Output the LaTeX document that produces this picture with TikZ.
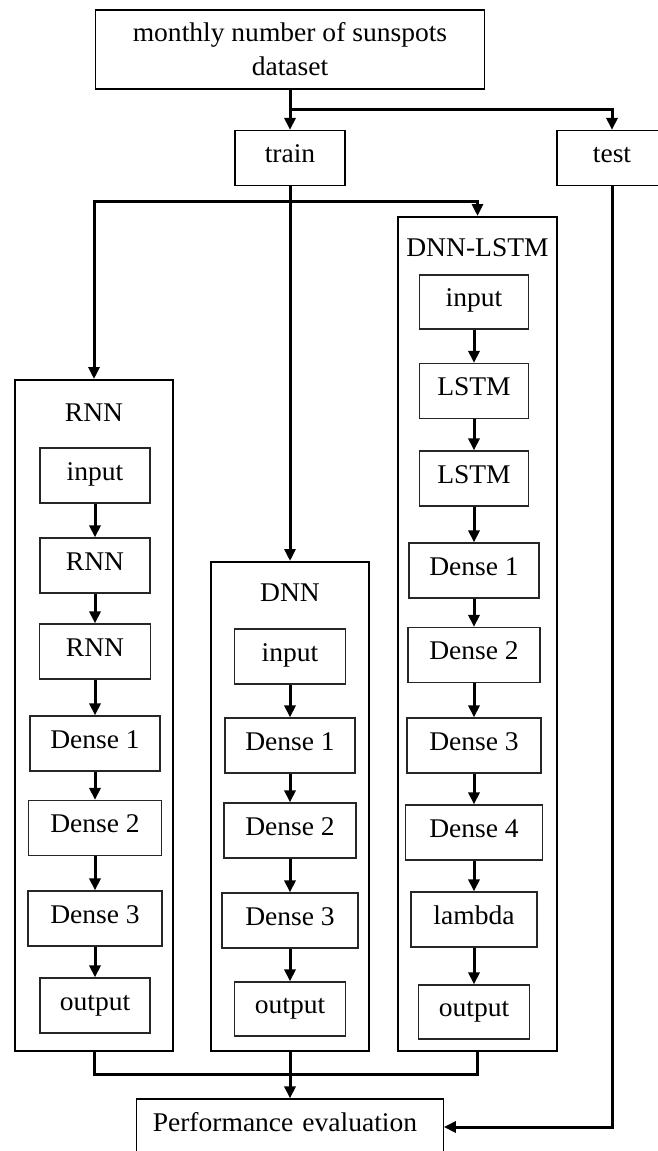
\documentclass[tikz,border=0pt]{standalone}
\usepackage{fontspec}
\setmainfont{Liberation Serif}[FakeStretch=1.02]
\usetikzlibrary{arrows.meta}
\begin{document}
\begin{tikzpicture}[x=1pt,y=-1pt,
  font=\fontsize{27}{34}\selectfont,
  box/.style={draw=black!85, line width=1.2pt, inner sep=0pt, minimum height=55pt,
              text height=17pt, text depth=8pt},
  plain/.style={draw=black, line width=1.4pt, inner sep=0pt},
  outer/.style={draw=black, line width=2pt, inner sep=0pt},
  ttl/.style={inner sep=0pt},
  conn/.style={line width=3pt, line join=miter},
  arr/.style={conn, -{Triangle[length=12pt,width=11pt]}}
]
\fill[white] (0,0) rectangle (657,1151);
\useasboundingbox (0,0) rectangle (657,1151);

% top level
\node[plain, minimum width=389pt, minimum height=79pt, align=center] (data) at (290,49.5)
  {monthly number of sunspots\\dataset};
\node[plain, box, draw=black, minimum width=110pt] (train) at (290,158) {train};
\node[plain, box, draw=black, minimum width=110pt] (test) at (612,158) {test};

% containers
\node[outer, minimum width=158pt, minimum height=671pt] (rnnbox) at (94,715.5) {};
\node[outer, minimum width=158pt, minimum height=489pt] (dnnbox) at (290,806.5) {};
\node[outer, minimum width=159pt, minimum height=834pt] (lstmbox) at (477.5,634) {};

\node[ttl] (rnnt) at (94,412.5) {RNN};
\node[ttl] (dnnt) at (290,592.5) {DNN};
\node[ttl] (lstmt) at (477.5,247.5) {DNN-LSTM};

% RNN column
\node[box, minimum width=110pt] (r1) at (95,475.5) {input};
\node[box, minimum width=110pt] (r2) at (95,565.5) {RNN};
\node[box, minimum width=111pt] (r3) at (95,651.5) {RNN};
\node[box, minimum width=130pt] (r4) at (95,743.5) {Dense 1};
\node[box, minimum width=133pt] (r5) at (95,828) {Dense 2};
\node[box, minimum width=134pt] (r6) at (95,918.5) {Dense 3};
\node[box, minimum width=110pt] (r7) at (95,1005.5) {output};

% DNN column
\node[box, minimum width=111pt] (d1) at (290,656.5) {input};
\node[box, minimum width=130pt] (d2) at (290,745.5) {Dense 1};
\node[box, minimum width=132pt] (d3) at (290,830.5) {Dense 2};
\node[box, minimum width=136pt] (d4) at (290,920.5) {Dense 3};
\node[box, minimum width=111pt, minimum height=54pt] (d5) at (290,1009) {output};

% DNN-LSTM column
\node[box, minimum width=109pt, minimum height=54pt] (l1) at (474,302) {input};
\node[box, minimum width=109pt] (l2) at (474,391) {LSTM};
\node[box, minimum width=109pt] (l3) at (474,478.5) {LSTM};
\node[box, minimum width=130pt] (l4) at (474,570.5) {Dense 1};
\node[box, minimum width=132pt] (l5) at (474,655) {Dense 2};
\node[box, minimum width=134pt] (l6) at (474,745.5) {Dense 3};
\node[box, minimum width=137pt] (l7) at (474,832.5) {Dense 4};
\node[box, minimum width=126pt] (l8) at (474,919.5) {lambda};
\node[box, minimum width=111pt, minimum height=54pt] (l9) at (474,1012) {output};

% performance evaluation
\node[plain, box, draw=black, minimum width=306.5pt, minimum height=56pt,
      text width=274.5pt, inner xsep=16pt, align=left] (perf) at (290,1127) {Performance evaluation};

% connectors, top
\coordinate (split1) at (290,109);
\coordinate (split2) at (290,201);
\coordinate (merge) at (290,1074);
\draw[arr] (data.south) -- (train.north);
\draw[arr] (split1) -| (test.north);
\draw[arr] (train.south) -- (dnnbox.north);
\draw[arr] (split2) -| (lstmbox.north);
\draw[arr] (split2) -| (rnnbox.north);

% inner chains
\foreach \a/\b in {r1/r2,r2/r3,r3/r4,r4/r5,r5/r6,r6/r7,
                   d1/d2,d2/d3,d3/d4,d4/d5,
                   l1/l2,l2/l3,l3/l4,l4/l5,l5/l6,l6/l7,l7/l8,l8/l9}
  \draw[arr] (\a.south) -- (\b.north);

% bottom
\draw[conn] (rnnbox.south) |- (merge) -| (lstmbox.south);
\draw[arr] (dnnbox.south) -- (perf.north);
\draw[arr] (test.south) |- (perf.east);
\end{tikzpicture}
\end{document}
